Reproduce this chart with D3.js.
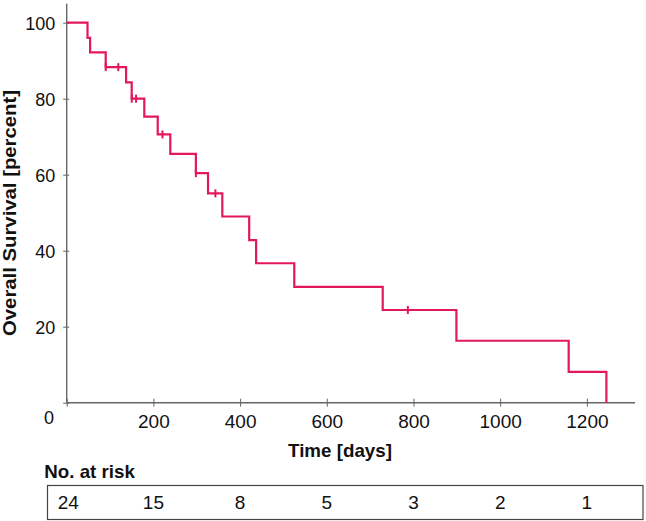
<!DOCTYPE html>
<html>
<head>
<meta charset="utf-8">
<script src="https://cdn.jsdelivr.net/npm/d3@7"></script>
<style>
  html, body { margin: 0; padding: 0; background: #fff; }
  svg { display: block; }
  text { font-family: "Liberation Sans", Arial, Helvetica, sans-serif; fill: #111; }
</style>
</head>
<body>
<svg id="chart" width="646" height="521"></svg>
<script>
// ---- data ----
const stepTimes = [0, 48, 54, 90, 137, 150, 179, 210, 239, 298, 326, 359, 421, 437, 525, 729, 899, 1158, 1245];
const survival  = [100, 96.0, 92.2, 88.3, 84.3, 80.0, 75.3, 70.6, 65.5, 60.4, 55.1, 49.0, 42.8, 36.7, 30.5, 24.4, 16.3, 8.1, 0];
const censorTimes  = [90, 119, 150, 160, 221, 298, 343, 787];
const censorValues = [88.3, 88.3, 80.0, 80.0, 70.6, 60.4, 55.1, 24.4];
const xTickValues = [0, 200, 400, 600, 800, 1000, 1200];
const yTickValues = [0, 20, 40, 60, 80, 100];
const riskTimes  = [0, 200, 400, 600, 800, 1000, 1200];
const riskCounts = [24, 15, 8, 5, 3, 2, 1];
const xTitle = "Time [days]";
const yTitle = "Overall Survival [percent]";
const riskTitle = "No. at risk";

const svg = d3.select("#chart");
const x = d3.scaleLinear().domain([0, 1311]).range([66.7, 635]);
const y = d3.scaleLinear().domain([0, 105]).range([402.7, 3.7]);
const axisColor = "#666";
const lineColor = "#e3175b";

// x axis
const gx = svg.append("g").attr("transform", `translate(0,${y(0)})`)
  .call(d3.axisBottom(x).tickValues(xTickValues).tickSize(4).tickFormat(d => d === 0 ? "" : d));
gx.select(".domain").attr("stroke", axisColor).attr("stroke-width", 1.4).attr("d", `M${x(0)},0H${x.range()[1]}`);
gx.selectAll(".tick line").attr("stroke", axisColor).attr("y1", -4).attr("y2", 4);
gx.selectAll(".tick text").attr("y", 0).attr("dy", "25px")
  .style("font-size", "19px").style("font-family", "'Liberation Sans', Arial, sans-serif").attr("fill", "#111");

// y axis
const gy = svg.append("g").attr("transform", `translate(${x(0)},0)`)
  .call(d3.axisLeft(y).tickValues(yTickValues).tickSize(3).tickFormat(d => d === 0 ? "" : d));
gy.select(".domain").attr("stroke", axisColor).attr("stroke-width", 1.4).attr("d", `M0,${y.range()[1]}V${y(0)}`);
gy.selectAll(".tick line").attr("stroke", axisColor).attr("x1", -3.5).attr("x2", 2.5);
gy.selectAll(".tick text").attr("x", -11.5).attr("dy", "0.36em")
  .style("font-size", "18px").style("font-family", "'Liberation Sans', Arial, sans-serif").attr("fill", "#111");

// shared zero label
svg.append("text").attr("x", 49).attr("y", 424).attr("text-anchor", "middle")
  .style("font-size", "18px").text("0");

// KM step curve
const pts = stepTimes.map((t, i) => [t, survival[i]]);
const line = d3.line().x(d => x(d[0])).y(d => y(d[1])).curve(d3.curveStepAfter);
svg.append("path").datum(pts).attr("d", line)
  .attr("fill", "none").attr("stroke", lineColor).attr("stroke-width", 2.2);

// censor marks
svg.selectAll(".cens").data(censorTimes.map((t, i) => [t, censorValues[i]])).enter()
  .append("line").attr("class", "cens")
  .attr("x1", d => x(d[0])).attr("x2", d => x(d[0]))
  .attr("y1", d => y(d[1]) - 4).attr("y2", d => y(d[1]) + 4)
  .attr("stroke", lineColor).attr("stroke-width", 2);

// axis titles
svg.append("text").attr("x", 340).attr("y", 457).attr("text-anchor", "middle")
  .style("font-size", "18.5px").style("font-weight", "bold")
  .attr("textLength", 104).attr("lengthAdjust", "spacingAndGlyphs").text(xTitle);
svg.append("text").attr("transform", "translate(16,213) rotate(-90)").attr("text-anchor", "middle")
  .style("font-size", "18.5px").style("font-weight", "bold")
  .attr("textLength", 246).attr("lengthAdjust", "spacingAndGlyphs").text(yTitle);

// risk table
svg.append("text").attr("x", 44.3).attr("y", 477.5)
  .style("font-size", "18.5px").style("font-weight", "bold")
  .attr("textLength", 90.5).attr("lengthAdjust", "spacingAndGlyphs").text(riskTitle);
svg.append("rect").attr("x", 47.5).attr("y", 485.5).attr("width", 595.5).attr("height", 34)
  .attr("fill", "none").attr("stroke", "#444").attr("stroke-width", 1.2);
svg.selectAll(".risk").data(riskTimes.map((t, i) => [t, riskCounts[i]])).enter()
  .append("text").attr("class", "risk")
  .attr("x", d => x(d[0]) + (d[0] === 0 ? 1.5 : 0)).attr("y", 509).attr("text-anchor", "middle")
  .style("font-size", "19px").text(d => d[1]);
</script>
</body>
</html>
